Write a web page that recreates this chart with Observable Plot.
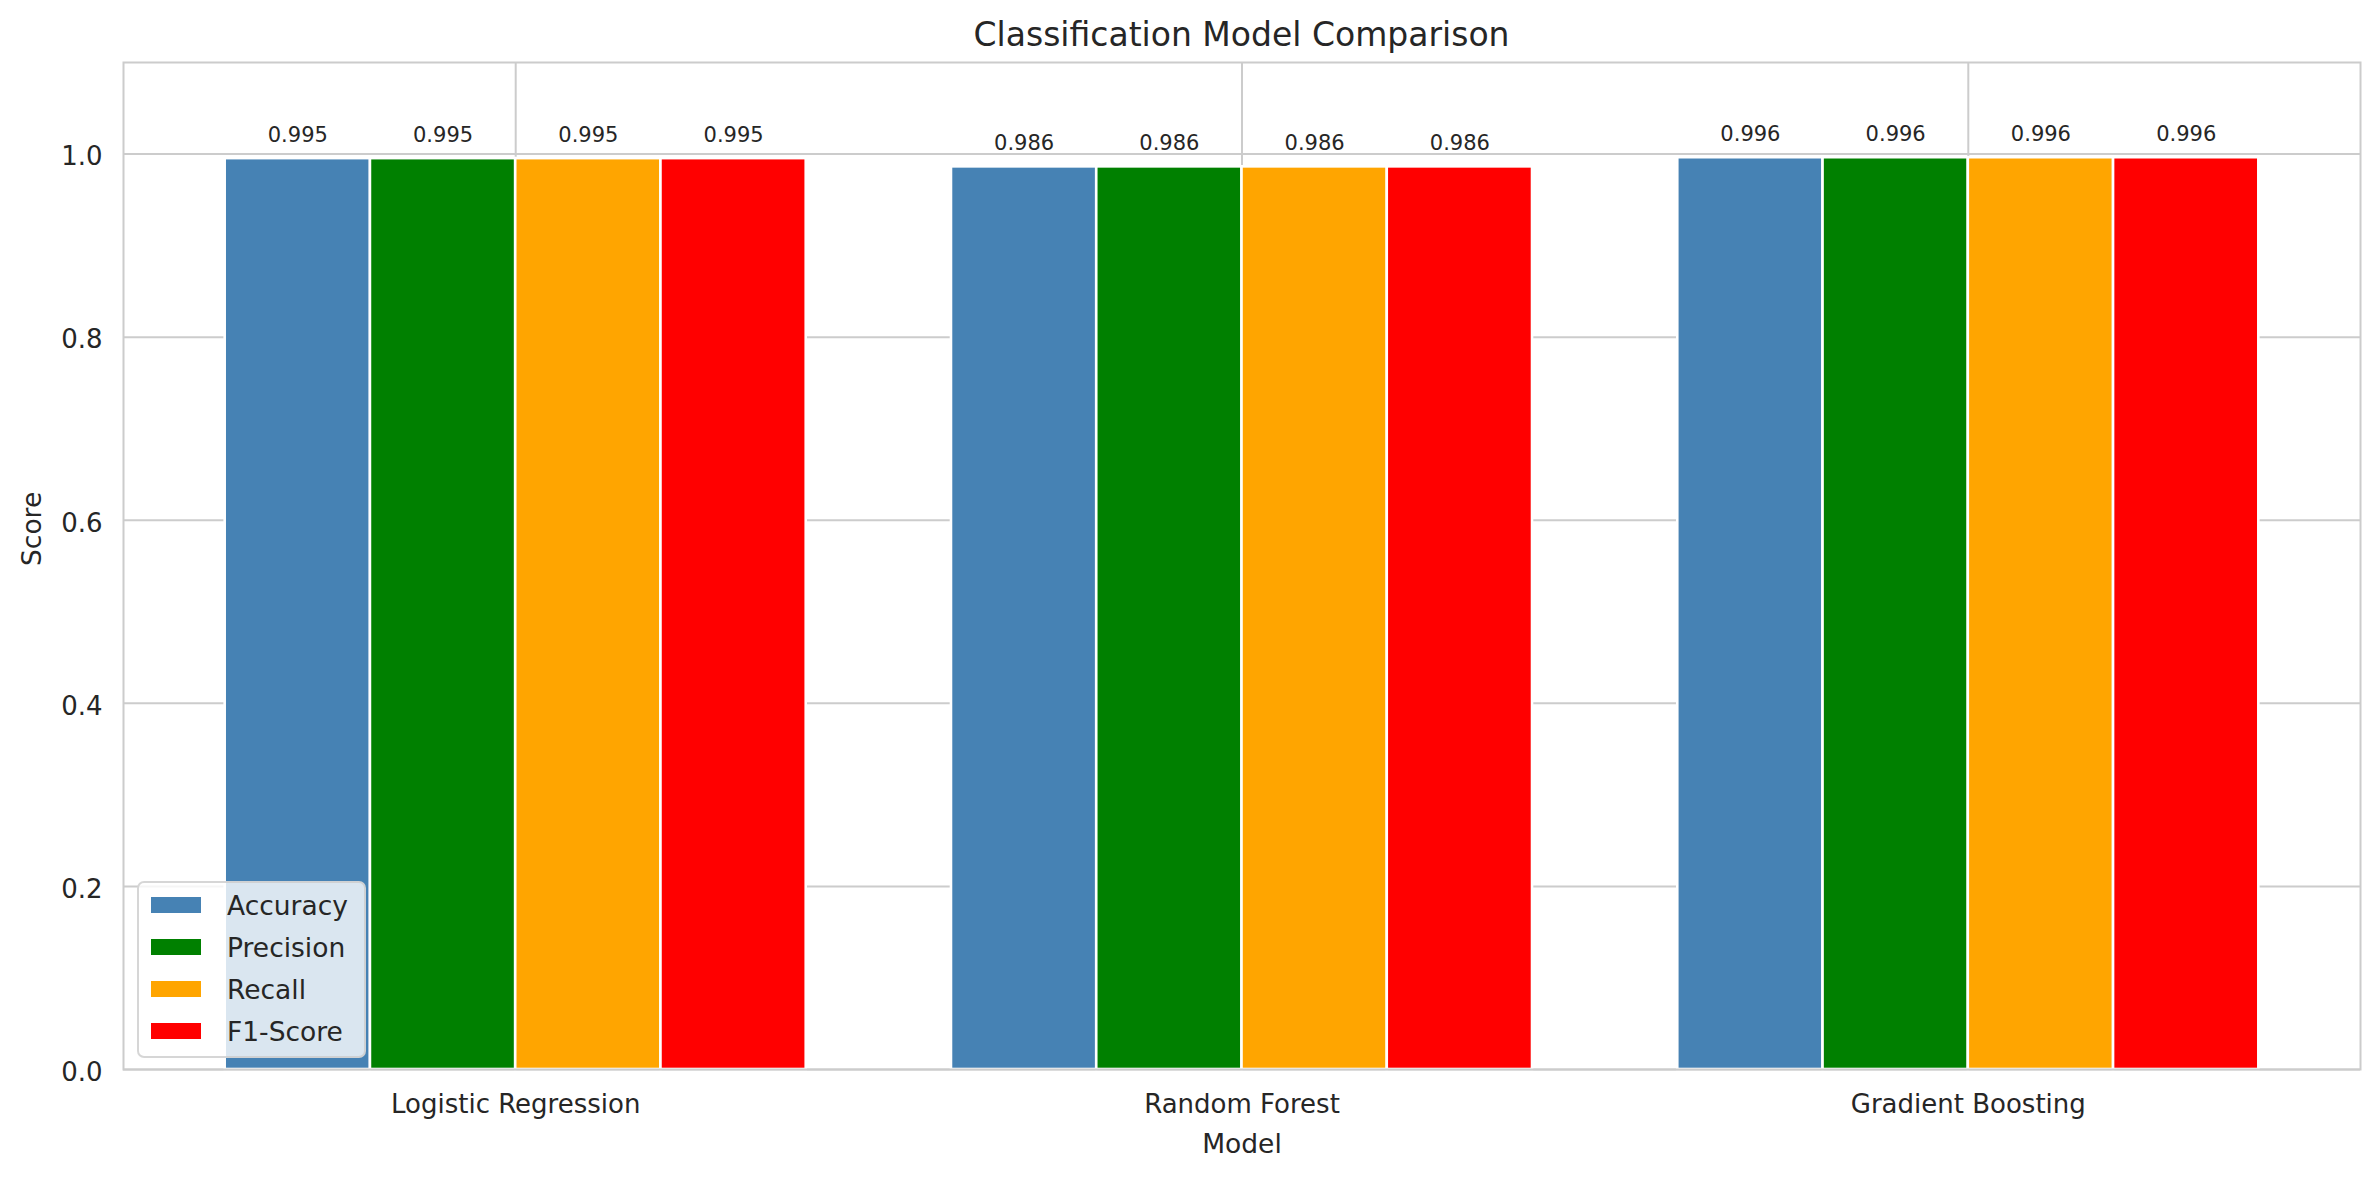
<!DOCTYPE html>
<html><head><meta charset="utf-8">
<script src="https://cdn.jsdelivr.net/npm/d3@7"></script>
<script src="https://cdn.jsdelivr.net/npm/@observablehq/plot@0.6"></script>
<style>
body{margin:0;background:#fff;font-family:"DejaVu Sans",sans-serif;color:#262626}
#wrap{position:relative;width:2380px;height:1177px;overflow:hidden}
#title{width:2380px;height:56px;box-sizing:border-box;padding:18px 20px 0 123px;font-size:33px;line-height:33px;text-align:center;white-space:nowrap}
#chart svg{display:block}
.lg-box{position:absolute;box-sizing:border-box;background:rgba(255,255,255,0.8);border:2px solid rgba(204,204,204,0.8);border-radius:7px}
.lg-patch{position:absolute;box-sizing:border-box;border:1px solid #fff}
.lg-text{position:absolute;font-size:26.5px;height:17px;line-height:17px;white-space:nowrap;color:#262626}
</style></head><body>
<div id="wrap">
  <div id="title">Classification Model Comparison</div>
  <div id="chart"></div>
</div>
<script>
// ---- data ----
const models = ["Logistic Regression", "Random Forest", "Gradient Boosting"];
const metrics = ["Accuracy", "Precision", "Recall", "F1-Score"];
const colors = ["#4682b4", "#008000", "#ffa500", "#ff0000"];
const accuracy = [0.995, 0.986, 0.996];
const precision = [0.995, 0.986, 0.996];
const recall = [0.995, 0.986, 0.996];
const f1score = [0.995, 0.986, 0.996];
const yTicks = [0.0, 0.2, 0.4, 0.6, 0.8, 1.0];
const xLabel = "Model";
const yLabel = "Score";

// ---- table ----
const series = [accuracy, precision, recall, f1score];
const barWidth = 0.2;
const rows = models.flatMap((m, i) => metrics.map((k, j) => ({model: m, mi: i, metric: k, mj: j, value: series[j][i]})));
const center = d => d.mi + (d.mj - (metrics.length - 1) / 2) * barWidth;
const modelIdx = models.map((m, i) => i);

const chart = Plot.plot({
  width: 2380, height: 1121,
  marginLeft: 123, marginRight: 20, marginTop: 6, marginBottom: 108,
  style: {fontFamily: '"DejaVu Sans", sans-serif', fontSize: "26px", color: "#262626", background: "#ffffff", overflow: "visible"},
  x: {type: "linear", domain: [-0.54, 2.54]},
  y: {domain: [0, 1.1]},
  color: {domain: metrics, range: colors},
  marks: [
    Plot.gridY(yTicks, {stroke: "#cccccc", strokeOpacity: 1, strokeWidth: 2}),
    Plot.gridX(modelIdx, {stroke: "#cccccc", strokeOpacity: 1, strokeWidth: 2}),
    Plot.rectY(rows, {x1: d => center(d) - barWidth / 2, x2: d => center(d) + barWidth / 2, y1: 0, y2: "value", fill: "metric", stroke: "#ffffff", strokeWidth: 2.6}),
    Plot.text(rows, {x: center, y: "value", text: d => d.value.toFixed(3), dy: -17, lineAnchor: "bottom", fontSize: 21, fill: "#262626"}),
    Plot.axisY(yTicks, {tickFormat: d3.format(".1f"), tickSize: 0, tickPadding: 21, dy: 3, label: null, fontSize: 26, fill: "#262626"}),
    Plot.axisX(modelIdx, {tickFormat: i => models[i], tickSize: 0, tickPadding: 25, label: null, fontSize: 26, fill: "#262626"}),
    Plot.text([xLabel], {text: d => d, frameAnchor: "bottom", dy: 83, lineAnchor: "bottom", fontSize: 26.5, fill: "#262626"}),
    Plot.text([yLabel], {text: d => d, frameAnchor: "left", dx: -101, rotate: -90, lineAnchor: "top", fontSize: 26.5, fill: "#262626"}),
    Plot.frame({stroke: "#cccccc", strokeWidth: 2})
  ]
});
document.getElementById("chart").appendChild(chart);

// ---- legend (lower left, semi-transparent) ----
const wrap = document.getElementById("wrap");
const box = document.createElement("div");
box.className = "lg-box";
Object.assign(box.style, {left: "137px", top: "881px", width: "229px", height: "177px"});
wrap.appendChild(box);
metrics.forEach((m, i) => {
  const p = document.createElement("div");
  p.className = "lg-patch";
  Object.assign(p.style, {left: "150px", top: (896 + 42 * i) + "px", width: "52px", height: "18px", background: colors[i]});
  wrap.appendChild(p);
  const t = document.createElement("div");
  t.className = "lg-text";
  t.textContent = m;
  Object.assign(t.style, {left: "227px", top: (897 + 42 * i) + "px"});
  wrap.appendChild(t);
});
</script>
</body></html>
